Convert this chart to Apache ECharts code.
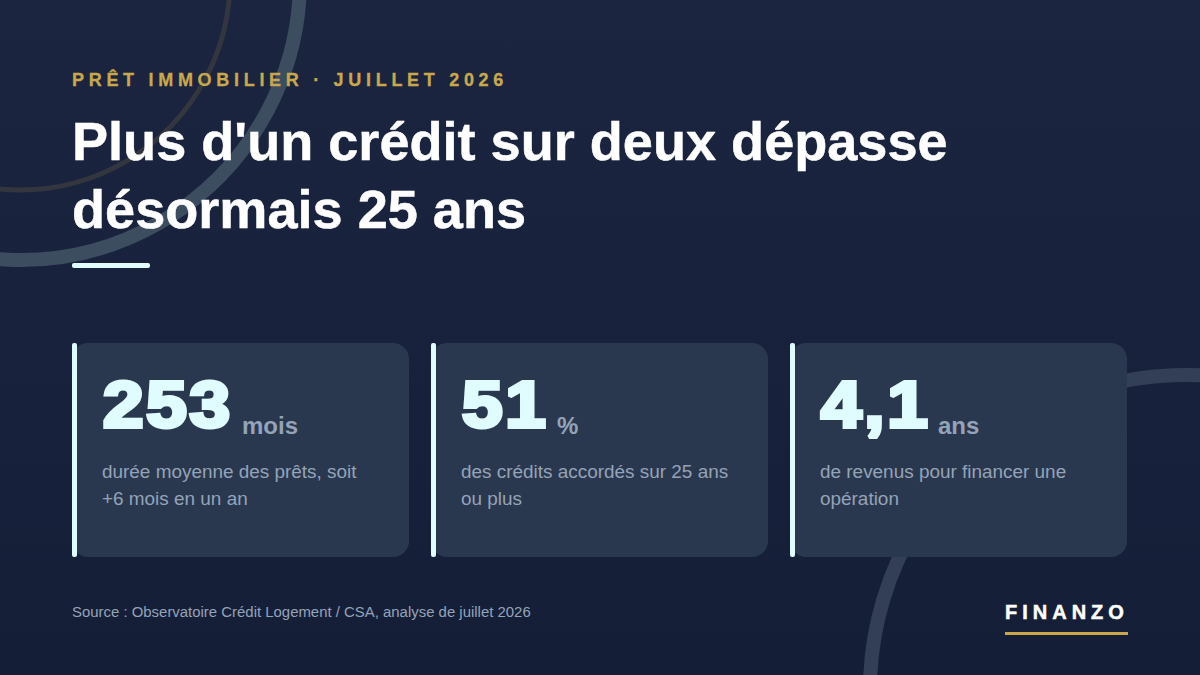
<!DOCTYPE html>
<html>
<head>
<meta charset="utf-8">
<style>
html,body{margin:0;padding:0;background:#18213b;}
#container{width:1200px;height:675px;}
</style>
<script src="https://cdn.jsdelivr.net/npm/echarts@6/dist/echarts.min.js"></script>
</head>
<body>
<div id="container"></div>
<script>
// contenu de la slide
var eyebrow = "PRÊT IMMOBILIER · JUILLET 2026";
var titleText = "Plus d'un crédit sur deux dépasse\ndésormais 25 ans";
var kpiValues = ["253", "51", "4,1"];
var kpiUnits = ["mois", "%", "ans"];
var kpiLabels = [
	"durée moyenne des prêts, soit\n+6 mois en un an",
	"des crédits accordés sur 25 ans\nou plus",
	"de revenus pour financer une\nopération"
];
var sourceText = "Source : Observatoire Crédit Logement / CSA, analyse de juillet 2026";
var brand = "FINANZO";

var FONT = '"Liberation Sans", Arial, sans-serif';
var cardX = [72, 431, 790];
var unitX = [242, 557, 938];

var els = [];

// cercles decoratifs
function ring(cx, cy, r, lw, color){
	els.push({type:'circle', silent:true, shape:{cx:cx, cy:cy, r:r}, style:{fill:'none', stroke:color, lineWidth:lw}});
}
ring(20, -20, 280, 14, '#3d4d60');
ring(20, -20, 210, 5, '#33363f');
ring(1185, 690, 315, 14, '#323f56');

els.push({type:'text', x:72, y:80, style:{text:eyebrow, font:'bold 18px '+FONT, fill:'#c9a84c', stroke:'#c9a84c', lineWidth:0.3, verticalAlign:'middle'}});
els.push({type:'text', x:72, y:107, style:{text:titleText, font:'bold 54.1px '+FONT, lineHeight:68, fill:'#ffffff', stroke:'#ffffff', lineWidth:0.5, verticalAlign:'top'}});
els.push({type:'rect', shape:{x:72, y:263, width:78, height:5, r:2}, style:{fill:'#e0fcff'}});

// cartes
for(var i = 0; i < kpiValues.length; i++){
	var x = cardX[i];
	els.push({type:'rect', shape:{x:x, y:343, width:337, height:214, r:16}, style:{fill:'#2a384f'}});
	els.push({type:'rect', shape:{x:x, y:343, width:5, height:214, r:2}, style:{fill:'#e0fcff'}});
	els.push({type:'text', x:x+31, y:437, scaleX:1.12, style:{text:kpiValues[i], font:'900 65px '+FONT, fill:'#e0fcff', stroke:'#e0fcff', lineWidth:4, verticalAlign:'bottom'}});
	els.push({type:'text', x:unitX[i], y:425, style:{text:kpiUnits[i], font:'bold 24px '+FONT, fill:'#94a3b8', verticalAlign:'middle'}});
	els.push({type:'text', x:x+30, y:458, style:{text:kpiLabels[i], font:'18.93px '+FONT, lineHeight:27, fill:'#94a3b8', verticalAlign:'top'}});
}

els.push({type:'text', x:72, y:611, style:{text:sourceText, font:'14.93px '+FONT, fill:'#94a3b8', verticalAlign:'middle'}});
els.push({type:'text', x:1005, y:612, style:{text:brand, font:'bold 20px '+FONT, fill:'#ffffff', stroke:'#ffffff', lineWidth:0.5, verticalAlign:'middle'}});
els.push({type:'rect', shape:{x:1005, y:632, width:123, height:3}, style:{fill:'#c9a84c'}});

var myChart = echarts.init(document.getElementById('container'), null, {renderer:'svg'});
myChart.setOption({
	animation:false,
	backgroundColor:{type:'linear', x:0, y:0, x2:0, y2:1, colorStops:[{offset:0, color:'#1b2540'},{offset:1, color:'#151e37'}]},
	graphic:{elements:els}
});

// letter-spacing : le rendu svg garde de vrais noeuds text
var spacing = {};
spacing[eyebrow] = '4.7px';
spacing[brand] = '5px';
kpiValues.forEach(function(v){ spacing[v] = '2.5px'; });
document.querySelectorAll('#container text').forEach(function(t){
	if(spacing[t.textContent]) t.style.letterSpacing = spacing[t.textContent];
});
</script>
</body>
</html>
